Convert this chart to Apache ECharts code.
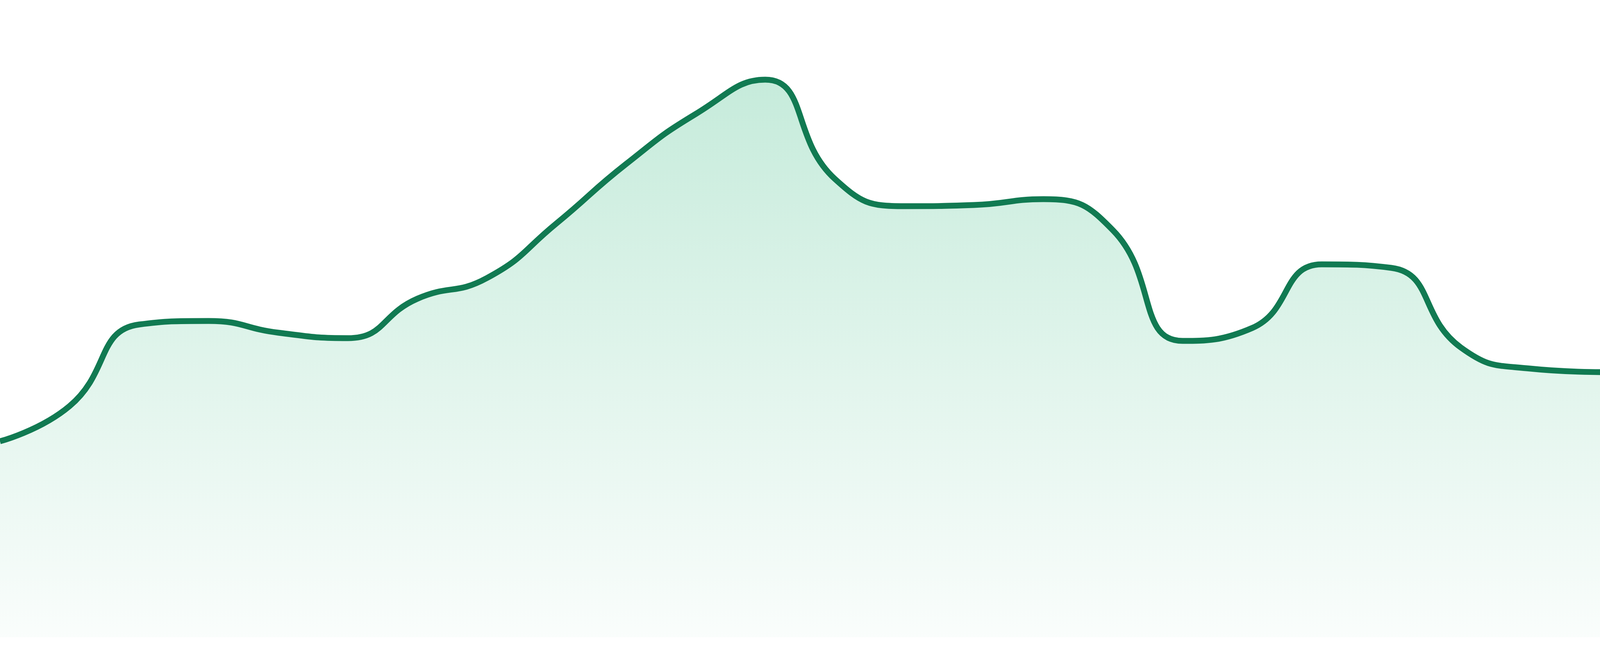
<!DOCTYPE html>
<html>
<head>
<meta charset="utf-8">
<style>
  html, body { margin: 0; padding: 0; width: 100%; height: 100%; overflow: hidden; background: #ffffff; }
  #chart { width: 100vw; height: 100vh; }
</style>
<script src="https://cdn.jsdelivr.net/npm/echarts@6/dist/echarts.min.js"></script>
</head>
<body>
<div id="chart"></div>
<script>
// Categories (24 evenly spaced periods)
var categories = ['1','2','3','4','5','6','7','8','9','10','11','12','13','14','15','16','17','18','19','20','21','22','23','24'];
// Series values
var values = [50.2, 59.2, 80.1, 81.0, 78.0, 76.6, 86.7, 92.0, 106.0, 121.2, 134.0, 142.8,
              117.4, 110.4, 110.7, 112.2, 104.2, 75.9, 79.2, 95.5, 94.6, 74.2, 68.8, 67.9];
var yMin = 0;
var yMax = 163.2;

var chart = echarts.init(document.getElementById('chart'), null, { renderer: 'canvas' });
chart.setOption({
  animation: false,
  backgroundColor: '#ffffff',
  grid: { left: 0, right: 0, top: 0, bottom: '2.857%', containLabel: false },
  xAxis: {
    type: 'category',
    data: categories,
    boundaryGap: false,
    show: false
  },
  yAxis: {
    type: 'value',
    min: yMin,
    max: yMax,
    show: false
  },
  series: [{
    type: 'line',
    data: values,
    smooth: true,
    symbol: 'none',
    lineStyle: { color: '#117a52', width: 15 },
    areaStyle: {
      color: new echarts.graphic.LinearGradient(0, 0, 0, 1, [
        { offset: 0, color: 'rgba(16,172,104,0.34)' },
        { offset: 1, color: 'rgba(16,172,104,0.03)' }
      ])
    }
  }]
});
window.addEventListener('resize', function () { chart.resize(); });
</script>
</body>
</html>
